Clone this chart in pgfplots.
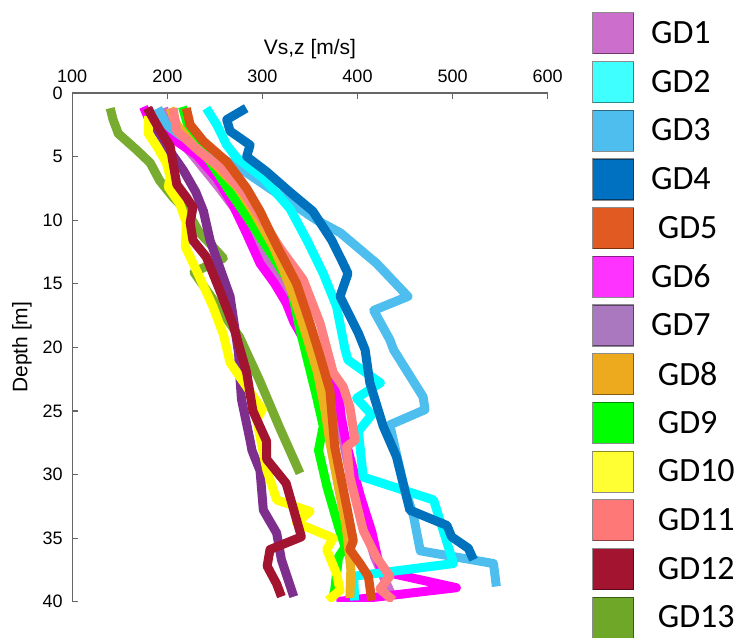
\documentclass[border=0pt]{standalone}
\usepackage{pgfplots}
\pgfplotsset{compat=1.18}
\usepackage{fontspec}
\setmainfont{Liberation Sans}
\newfontfamily\keyfont{Carlito}

% line colours of the profiles
\definecolor{gd1}{HTML}{CC6ECC}
\definecolor{gd2}{HTML}{00FFFF}
\definecolor{gd3}{HTML}{4DBEEE}
\definecolor{gd4}{HTML}{0072BD}
\definecolor{gd5}{HTML}{D95319}
\definecolor{gd6}{HTML}{FF00FF}
\definecolor{gd7}{HTML}{7E2F8E}
\definecolor{gd8}{HTML}{EDB120}
\definecolor{gd9}{HTML}{00FF00}
\definecolor{gd10}{HTML}{FFFF00}
\definecolor{gd11}{HTML}{FF8080}
\definecolor{gd12}{HTML}{A2142F}
\definecolor{gd13}{HTML}{77AC30}
% key swatch colours
\definecolor{k1}{HTML}{CC6ECC}
\definecolor{k2}{HTML}{40FFFF}
\definecolor{k3}{HTML}{4DBEEE}
\definecolor{k4}{HTML}{0070C0}
\definecolor{k5}{HTML}{E05A22}
\definecolor{k6}{HTML}{FF33FF}
\definecolor{k7}{HTML}{AA78BE}
\definecolor{k8}{HTML}{EDAA1E}
\definecolor{k9}{HTML}{00FF00}
\definecolor{k10}{HTML}{FFFF33}
\definecolor{k11}{HTML}{FF7878}
\definecolor{k12}{HTML}{A31430}
\definecolor{k13}{HTML}{6FA828}

\newcommand{\gdkey}[2]{%
  \addlegendimage{legend image code/.code={%
    \draw[draw=black, draw opacity=0.45, line width=1.2pt, fill=#1]
      (0pt,-20.5pt) rectangle (41pt,20.5pt);}}%
  \addlegendentry{#2}}

\pgfplotsset{profile/.style={line width=9pt, line join=round, line cap=butt, mark=none, forget plot}}

\begin{document}
\begin{tikzpicture}
\begin{axis}[
  scale only axis,
  width=475.5pt, height=508.8pt,
  xmin=100, xmax=600, ymin=0, ymax=40,
  y dir=reverse,
  axis x line*=top, axis y line*=left,
  axis line style={black!60, line width=1.2pt},
  tick align=inside, major tick length=6pt,
  tick style={black!60, line width=1.2pt},
  xtick={100,200,...,600}, ytick={0,5,...,40},
  /pgf/number format/assume math mode=true,
  ticklabel style={font=\fontsize{18}{20}\selectfont},
  xticklabel shift=7pt, yticklabel shift=6pt,
  label style={font=\fontsize{21}{24}\selectfont},
  xlabel={Vs,z [m/s]}, ylabel={Depth [m]},
  xlabel shift=4pt, ylabel shift=4pt,
  legend style={at={(axis cs:600,0)}, anchor=north west, xshift=44pt, yshift=80.9pt,
    draw=none, fill=none, inner sep=0pt, row sep=6.5pt, column sep=17pt,
    font=\keyfont\fontsize{34}{40}\selectfont, nodes={inner sep=0pt}},
  legend cell align=left,
]
\gdkey{k1}{GD1}
\gdkey{k2}{GD2}
\gdkey{k3}{GD3}
\gdkey{k4}{GD4}
\gdkey{k5}{\hspace{6.7pt}GD5}
\gdkey{k6}{GD6}
\gdkey{k7}{GD7}
\gdkey{k8}{\hspace{6.7pt}GD8}
\gdkey{k9}{\hspace{6.7pt}GD9}
\gdkey{k10}{\hspace{6.7pt}GD10}
\gdkey{k11}{\hspace{6.7pt}GD11}
\gdkey{k12}{\hspace{6.7pt}GD12}
\gdkey{k13}{\hspace{6.7pt}GD13}

% GD13
\addplot[profile, gd13] coordinates {(140,1.2) (143,2.1) (148.5,3.2) (168,4.5) (182,5.5) (192,6.9) (206,8.2) (219,9.2) (227,10.1) (234,11.0) (248,12.1) (259,13.0) (228,14.1) (276,19.2) (297,22.6) (318,26.3) (339.5,29.9)};
% GD1
\addplot[profile, gd1] coordinates {(196,1.2) (205,3.0) (228,5.0) (255,7.5) (280,10.0) (305,13.0) (330,16.0) (352,19.0) (368,22.0) (380,25.0) (384,27.0) (395,31.0) (408,34.0) (418,36.5) (430,38.5) (438,39.8)};
% GD6
\addplot[profile, gd6] coordinates {(175,1.1) (182,2.3) (206,3.6) (231,4.9) (252,6.7) (269,8.8) (283,11.0) (297.5,13.4) (313,15.0) (325,16.5) (333,18.0) (352,20.5) (380,23.5) (383,25.5) (388,27.5) (403,31.7) (415,34.5) (421,36.5) (425,37.6) (504,38.9) (378,40.0)};
% GD3
\addplot[profile, gd3] coordinates {(190,1.2) (199,2.5) (213,3.3) (276,5.9) (329,8.6) (357,10.0) (382,11.0) (420,13.4) (453,16.0) (417,17.1) (434,19.4) (438,20.2) (469,23.9) (471,24.9) (434,26.1) (448,30.7) (459,33.3) (466,36.0) (543,37.0) (546,38.8)};
% GD2
\addplot[profile, gd2] coordinates {(241,1.2) (252,2.5) (262.5,4.1) (273,5.1) (301,6.7) (329,9.1) (347,11.6) (364,14.2) (378,16.8) (387,20.2) (390,21.0) (424,22.8) (399,24.0) (415,25.3) (401,26.6) (406,30.2) (480,32.0) (501,37.0) (396,38.0) (397,39.9)};
% GD9
\addplot[profile, gd9] coordinates {(216,1.1) (221,2.4) (232,4.0) (245,5.4) (254,6.4) (266,7.8) (283.5,9.7) (311.5,12.9) (329,15.0) (339.5,18.6) (357,23.9) (364,26.2) (359,28.1) (368,31.0) (380,34.1) (387,35.7) (380,36.5) (376,39.1) (374,39.7)};
% GD8
\addplot[profile, gd8] coordinates {(203,1.2) (210,2.5) (228,4.2) (250,5.6) (275,7.5) (292,9.5) (311,12.0) (322,13.9) (333,16.0) (346,19.0) (358,22.0) (366,25.0) (371,27.5) (380,31.0) (388,34.0) (391,36.0) (393,37.5) (392,39.7)};
% GD11
\addplot[profile, gd11] coordinates {(206,1.2) (210,3.0) (234,4.6) (255,5.8) (280,7.8) (301,10.1) (318.5,12.2) (343,14.7) (360.6,18.1) (374.5,22.0) (385,23.1) (392,24.7) (397.4,27.3) (388.6,27.8) (392,30.2) (406,34.4) (420,36.5) (434,38.0) (423.6,39.0) (437.6,39.9)};
% GD5
\addplot[profile, gd5] coordinates {(220,1.2) (224,2.5) (238,3.8) (262.5,5.4) (283.5,7.5) (297.5,9.3) (315,12.0) (336,15.0) (350,18.1) (360.6,20.7) (371,23.4) (374.5,26.5) (376,27.8) (388.6,32.5) (395.6,35.2) (392,35.9) (402.6,37.0) (411.4,38.0) (415,39.9)};
% GD4
\addplot[profile, gd4] coordinates {(283,1.2) (262.5,2.1) (266,3.0) (287,4.1) (283.5,5.0) (304.5,6.2) (329,7.8) (353,9.3) (373,11.6) (383,13.1) (390,14.2) (381.6,16.0) (401,18.9) (408,20.2) (413,22.8) (427,26.2) (441,28.6) (455,32.8) (494,34.0) (499,34.9) (516.5,35.8) (522,36.7)};
% GD7
\addplot[profile, gd7] coordinates {(180,1.2) (190,3.0) (203,4.6) (217,6.1) (230,7.8) (238,9.3) (245,11.6) (255,13.7) (266,16.0) (270,18.0) (275,20.5) (276,22.0) (278,24.1) (287,27.3) (289,28.1) (297.5,29.7) (301,32.8) (315,34.6) (320,36.7) (333,39.6)};
% GD10
\addplot[profile, gd10] coordinates {(180,1.8) (180,3.2) (189,4.2) (199,5.5) (203,6.6) (201,7.4) (213,8.7) (220,10.2) (219,12.1) (234,14.5) (248,16.8) (259,19.0) (266,21.2) (300,24.9) (294,25.7) (304.5,29.6) (315,32.0) (350,32.9) (336,33.8) (374.5,35.0) (367.6,35.9) (378,37.8) (381.6,39.1) (369,39.9)};
% GD12
\addplot[profile, gd12] coordinates {(179,1.2) (192,2.9) (203,4.2) (206,5.5) (210,7.2) (220,8.2) (227,9.0) (224,10.2) (227,11.6) (241,12.9) (255,15.5) (269,18.2) (283.5,22.0) (290,25.0) (304.5,27.4) (304.5,28.8) (325,30.7) (341,34.9) (308,35.9) (305,37.2) (315,38.6) (320,39.6)};

\coordinate (tl) at (axis cs:100,0);
\end{axis}
\pgfresetboundingbox
\path[use as bounding box] (tl) ++(-72.2pt,92.9pt) rectangle ++(741pt,-637pt);
\end{tikzpicture}
\end{document}
